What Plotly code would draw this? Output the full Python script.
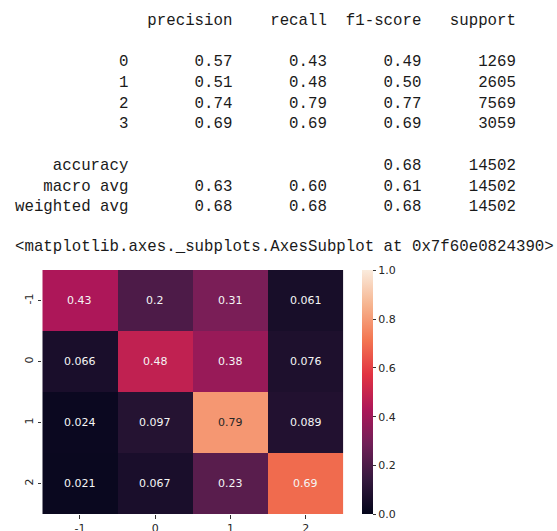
import plotly.graph_objects as go

# ---- classification report data ----
class_labels = ["0", "1", "2", "3"]
precision = [0.57, 0.51, 0.74, 0.69]
recall = [0.43, 0.48, 0.79, 0.69]
f1_score = [0.49, 0.50, 0.77, 0.69]
support = [1269, 2605, 7569, 3059]
accuracy = 0.68
total_support = 14502
macro_avg = [0.63, 0.60, 0.61]
weighted_avg = [0.68, 0.68, 0.68]
repr_line = "<matplotlib.axes._subplots.AxesSubplot at 0x7f60e0824390>"

# ---- confusion matrix (normalized) ----
cm_labels = ["-1", "0", "1", "2"]
cm_values = [
    [0.43, 0.2, 0.31, 0.061],
    [0.066, 0.48, 0.38, 0.076],
    [0.024, 0.097, 0.79, 0.089],
    [0.021, 0.067, 0.23, 0.69],
]
cm_text = [
    ["0.43", "0.2", "0.31", "0.061"],
    ["0.066", "0.48", "0.38", "0.076"],
    ["0.024", "0.097", "0.79", "0.089"],
    ["0.021", "0.067", "0.23", "0.69"],
]
colorbar_ticks = [0.0, 0.2, 0.4, 0.6, 0.8, 1.0]

W, H = 557, 531

rocket = [
    [0.0, "#03051a"],
    [0.143, "#35193e"],
    [0.286, "#701f57"],
    [0.429, "#ad1759"],
    [0.571, "#e13342"],
    [0.714, "#f37651"],
    [0.857, "#f6b48f"],
    [1.0, "#faebdd"],
]

# build report lines in sklearn format
width = 12
lines = []
lines.append(" " * width + " " + "".join(" {:>9}".format(h) for h in ["precision", "recall", "f1-score", "support"]))
lines.append("")
for lab, p, r, f, s in zip(class_labels, precision, recall, f1_score, support):
    lines.append("{:>{w}s} ".format(lab, w=width) + " {:>9.2f} {:>9.2f} {:>9.2f} {:>9}".format(p, r, f, s))
lines.append("")
lines.append("{:>{w}s} ".format("accuracy", w=width) + " {:>9} {:>9} {:>9.2f} {:>9}".format("", "", accuracy, total_support))
lines.append("{:>{w}s} ".format("macro avg", w=width) + " {:>9.2f} {:>9.2f} {:>9.2f} {:>9}".format(*macro_avg, total_support))
lines.append("{:>{w}s} ".format("weighted avg", w=width) + " {:>9.2f} {:>9.2f} {:>9.2f} {:>9}".format(*weighted_avg, total_support))

mono = dict(family="Liberation Mono, DejaVu Sans Mono, monospace", size=15.75, color="#1a1a1a")

annotations = []
for i, ln in enumerate(lines):
    if not ln:
        continue
    ypx = 20.7 + 20.73 * i
    annotations.append(dict(
        text=ln.replace(" ", "\u00a0"), xref="paper", yref="paper",
        x=14 / W, y=1 - ypx / H, xanchor="left", yanchor="middle",
        showarrow=False, font=mono, borderpad=0,
    ))
annotations.append(dict(
    text=repr_line.replace(" ", "\u00a0"), xref="paper", yref="paper",
    x=14 / W, y=1 - 246.7 / H, xanchor="left", yanchor="middle",
    showarrow=False, font=mono, borderpad=0,
))

# cell annotations (category index positions on the axes)
for i in range(len(cm_labels)):
    for j in range(len(cm_labels)):
        v = cm_values[i][j]
        annotations.append(dict(
            text=cm_text[i][j], x=j, y=i, xref="x", yref="y",
            showarrow=False,
            font=dict(family="DejaVu Sans", size=11,
                      color="#262626" if v > 0.75 else "#f5f5f5"),
        ))

fig = go.Figure(go.Heatmap(
    z=cm_values, x=cm_labels, y=cm_labels,
    colorscale=rocket, zmin=0, zmax=1, xgap=0, ygap=0,
    hoverinfo="skip",
    colorbar=dict(
        x=362.3 / W, xanchor="left", xref="paper", xpad=0, ypad=0,
        y=1 - 514.3 / H, yanchor="bottom", len=244.3 / H, lenmode="fraction",
        thickness=11, outlinewidth=0,
        tickvals=colorbar_ticks, ticktext=["%.1f" % t for t in colorbar_ticks],
        ticks="outside", ticklen=3.5, tickwidth=1, tickcolor="#333333",
        tickfont=dict(family="DejaVu Sans", size=11, color="#262626"),
    ),
))

axis_common = dict(
    showgrid=False, zeroline=False, showline=False,
    ticks="outside", ticklen=3.5, tickwidth=1, tickcolor="#333333",
    tickfont=dict(family="DejaVu Sans", size=11, color="#262626"),
    type="category", automargin=False,
)
fig.update_layout(
    width=W, height=H,
    margin=dict(l=0, r=0, t=0, b=0, autoexpand=False),
    paper_bgcolor="white", plot_bgcolor="white",
    xaxis=dict(domain=[42.3 / W, 343.3 / W], **axis_common),
    yaxis=dict(domain=[1 - 514.3 / H, 1 - 270 / H], autorange="reversed",
               tickangle=-90, **axis_common),
    annotations=annotations,
    showlegend=False,
)

fig.write_html(
    "out.html",
    config={"displayModeBar": False},
    post_script="document.body.style.margin='0px';document.body.style.overflow='hidden';",
)
